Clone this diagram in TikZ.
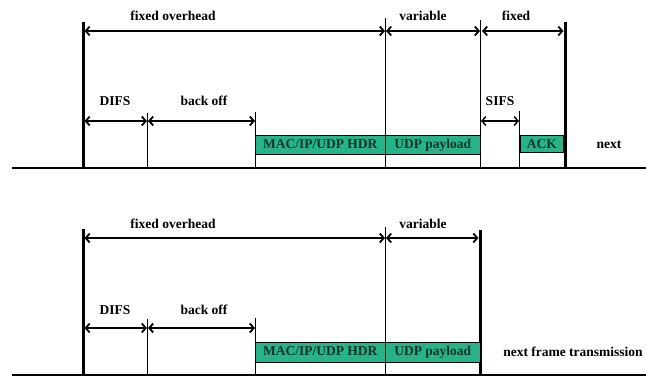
\documentclass[tikz,border=0pt]{standalone}
\usepackage{fontspec}
\setmainfont{Liberation Serif}
\usetikzlibrary{arrows.meta}
\definecolor{boxgreen}{RGB}{36,180,138}
\definecolor{boxtext}{RGB}{20,50,35}
\tikzset{
  lbl/.style={font=\fontsize{13.5}{15}\selectfont\bfseries, inner sep=0pt},
  pkt/.style={draw=black, line width=0.6pt, fill=boxgreen, font=\fontsize{13.5}{15}\selectfont\bfseries, text=boxtext, inner sep=0pt, text height=9.5pt, text depth=3pt, anchor=north west},
  thick line/.style={line width=3pt},
  thin line/.style={line width=0.8pt},
  base line/.style={line width=2pt},
  span/.style={line width=1.8pt, {Straight Barb[length=4pt,width=9pt]}-{Straight Barb[length=4pt,width=9pt]}}
}
\begin{document}
\begin{tikzpicture}[x=1pt,y=-1pt]
\useasboundingbox[fill=white] (0,0) rectangle (646,380);

% ===== top panel =====
\coordinate (A0t) at (83,22);   \coordinate (A0b) at (83,169);
\coordinate (A1t) at (385,18);  \coordinate (A1b) at (385,168);
\coordinate (A2t) at (480,20);  \coordinate (A2b) at (480,168);
\coordinate (A3t) at (565,22);  \coordinate (A3b) at (565,169);
\coordinate (A4t) at (147,113); \coordinate (A4b) at (147,168);
\coordinate (A5t) at (255,112); \coordinate (A5b) at (255,168);
\coordinate (A6t) at (519,111); \coordinate (A6b) at (519,168);
\coordinate (AL) at (12,168);   \coordinate (AR) at (646,168);

\draw[base line] (AL) -- (AR);
\draw[thick line] (A0t) -- (A0b);
\draw[thick line] (A3t) -- (A3b);
\draw[thin line] (A1t) -- (A1b);
\draw[thin line] (A2t) -- (A2b);
\draw[thin line] (A4t) -- (A4b);
\draw[thin line] (A5t) -- (A5b);
\draw[thin line] (A6t) -- (A6b);

\coordinate (a1) at (84.5,31); \coordinate (a2) at (385,31);
\coordinate (a3) at (386,31);  \coordinate (a4) at (480,31);
\coordinate (a5) at (482,31);  \coordinate (a6) at (563.5,31);
\draw[span] (a1) -- (a2);
\draw[span] (a3) -- (a4);
\draw[span] (a5) -- (a6);

\coordinate (d1) at (84.5,121); \coordinate (d2) at (147,121);
\coordinate (d3) at (148,121);  \coordinate (d4) at (255,121);
\coordinate (d5) at (481,121);  \coordinate (d6) at (519,121);
\draw[span] (d1) -- (d2);
\draw[span] (d3) -- (d4);
\draw[span, line width=1.4pt] (d5) -- (d6);

\node[lbl] (tfo) at (173,16) {fixed overhead};
\node[lbl] (tvar) at (423,16) {variable};
\node[lbl] (tfix) at (516,16) {fixed};
\node[lbl] (tdifs) at (115,101) {DIFS};
\node[lbl] (tbo) at (204,101) {back off};
\node[lbl] (tsifs) at (500,101) {SIFS};

\node[pkt, minimum width=130pt, minimum height=19pt] (thdr) at (255,135) {MAC/IP/UDP HDR};
\node[pkt, minimum width=95pt, minimum height=19pt] (tpay) at (385,135) {UDP payload};
\node[pkt, minimum width=43pt, minimum height=17pt, text depth=1pt] (tack) at (520,135) {ACK};
\node[lbl] (tnext) at (609,145) {next};

% ===== bottom panel =====
\coordinate (B0t) at (83,229);  \coordinate (B0b) at (83,376);
\coordinate (B1t) at (385,227); \coordinate (B1b) at (385,375);
\coordinate (B2t) at (480,230); \coordinate (B2b) at (480,376);
\coordinate (B4t) at (147,319); \coordinate (B4b) at (147,375);
\coordinate (B5t) at (255,318); \coordinate (B5b) at (255,375);
\coordinate (BL) at (12,375);   \coordinate (BR) at (646,375);

\draw[base line] (BL) -- (BR);
\draw[thick line] (B0t) -- (B0b);
\draw[thick line] (B2t) -- (B2b);
\draw[thin line] (B1t) -- (B1b);
\draw[thin line] (B4t) -- (B4b);
\draw[thin line] (B5t) -- (B5b);

\coordinate (b1) at (84.5,238); \coordinate (b2) at (385,238);
\coordinate (b3) at (386,238);  \coordinate (b4) at (478.5,238);
\draw[span] (b1) -- (b2);
\draw[span] (b3) -- (b4);

\coordinate (e1) at (84.5,328); \coordinate (e2) at (147,328);
\coordinate (e3) at (148,328);  \coordinate (e4) at (255,328);
\draw[span] (e1) -- (e2);
\draw[span] (e3) -- (e4);

\node[lbl] (bfo) at (173,224) {fixed overhead};
\node[lbl] (bvar) at (423,224) {variable};
\node[lbl] (bdifs) at (115,310) {DIFS};
\node[lbl] (bbo) at (204,310) {back off};

\node[pkt, minimum width=130pt, minimum height=20pt] (bhdr) at (255,342) {MAC/IP/UDP HDR};
\node[pkt, minimum width=95pt, minimum height=20pt] (bpay) at (385,342) {UDP payload};
\node[lbl] (bnext) at (573,352) {next frame transmission};
\end{tikzpicture}
\end{document}
